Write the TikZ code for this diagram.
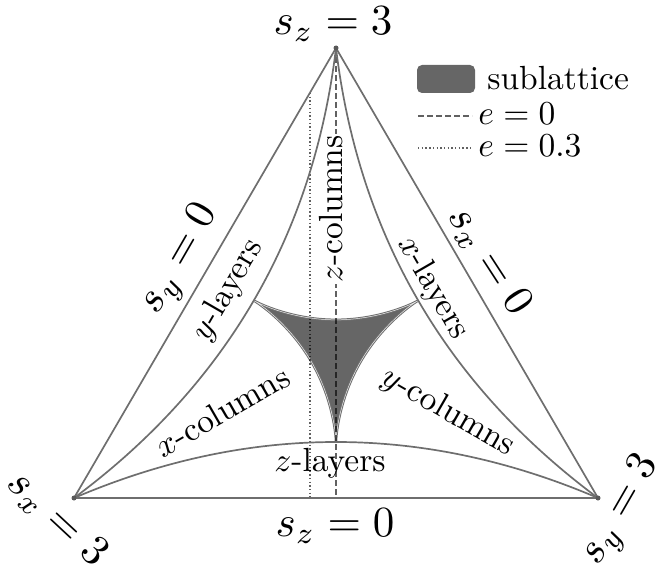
\documentclass[tikz,border=0pt]{standalone}
\usetikzlibrary{calc}
\definecolor{subfill}{HTML}{666666}
\definecolor{lin}{HTML}{6E6E6E}
\tikzset{
  edge/.style={draw=lin, line width=1.7pt},
  dashln/.style={draw=black, draw opacity=0.62, line width=1.5pt, dash pattern=on 6pt off 3pt},
  dotln/.style={draw=black, draw opacity=0.62, line width=1.5pt, dash pattern=on 1.4pt off 2.3pt},
  lab/.style={inner sep=0.5pt, scale=3.35},
  big/.style={inner sep=0.5pt, scale=4.3},
  vdot/.style={fill=black!65, draw=none, circle, inner sep=0pt, minimum size=5pt},
}
\begin{document}
\begin{tikzpicture}[x=1pt,y=-1pt]
\useasboundingbox (0,0) rectangle (660,567);
% vertices
\coordinate (T) at (336,48);
\coordinate (L) at (74,498);
\coordinate (R) at (598,498);
\coordinate (zb) at (336,498);
\coordinate (et) at (310,93);
\coordinate (eb) at (310,498);
% sublattice region
\fill[subfill] plot[domain=0:360, samples=241, variable=\t]
  ({336 + (62.6*sin(\t) - 31.3*sin(2*\t))*(1-0.05*(1-cos(3*\t)))},
   {348 + (62.6*cos(\t) + 31.3*cos(2*\t))*(1-0.05*(1-cos(3*\t)))}) -- cycle;
\draw[draw=lin, line width=1pt, double=white!85!gray, double distance=0.5pt]
  plot[domain=0:360, samples=241, variable=\t]
  ({336 + (62.6*sin(\t) - 31.3*sin(2*\t))*(1-0.05*(1-cos(3*\t)))},
   {348 + (62.6*cos(\t) + 31.3*cos(2*\t))*(1-0.05*(1-cos(3*\t)))}) -- cycle;
% e lines
\draw[dashln] (T) -- (zb);
\draw[dotln] (et) -- (eb);
\node[lab, rotate=90, fill=white] (zc) at (331,209) {$z$-columns};
% triangle and curves
\draw[edge] (T) -- (L) -- (R) -- cycle;
\draw[edge] (L) .. controls (248.67,423.33) and (423.33,423.33) .. (R);
\draw[edge] (T) .. controls (313.47,235.1) and (226.13,385.1) .. (L);
\draw[edge] (T) .. controls (358.53,235.1) and (445.87,385.1) .. (R);
\node[vdot] (vT) at (T) {};
\node[vdot] (vL) at (L) {};
\node[vdot] (vR) at (R) {};
% region labels
\node[lab, rotate=60] (yl) at (228,290) {$y$-layers};
\node[lab, rotate=-60] (xl) at (433,288) {$x$-layers};
\node[lab, rotate=30] (xc) at (222,411) {$x$-columns};
\node[lab, rotate=-30] (yc) at (448,412) {$y$-columns};
\node[lab] (zl) at (330,463) {$z$-layers};
% boundary labels
\node[big] (sz3) at (333,24) {$s_z=3$};
\node[big] (sz0) at (335,526) {$s_z=0$};
\node[big, rotate=60] (sy0) at (181,260) {$s_y=0$};
\node[big, rotate=-57] (sx0) at (489,261) {$s_x=0$};
\node[big, rotate=-43] (sx3) at (57,519) {$s_x=3$};
\node[big, rotate=60] (sy3) at (622,511) {$s_y=3$};
% legend
\node[fill=subfill, rounded corners=5pt, minimum width=58pt, minimum height=28pt, inner sep=0pt] (sw) at (446,79) {};
\node[lab, anchor=base west] (swt) at (485,89) {sublattice};
\coordinate (d1) at (418,116);
\coordinate (d2) at (472,116);
\draw[dashln] (d1) -- (d2);
\node[lab, anchor=base west] (e0) at (476,124) {$e=0$};
\coordinate (p1) at (418,148);
\coordinate (p2) at (472,148);
\draw[dotln] (p1) -- (p2);
\node[lab, anchor=base west] (e3) at (476,156) {$e=0.3$};
\end{tikzpicture}
\end{document}
